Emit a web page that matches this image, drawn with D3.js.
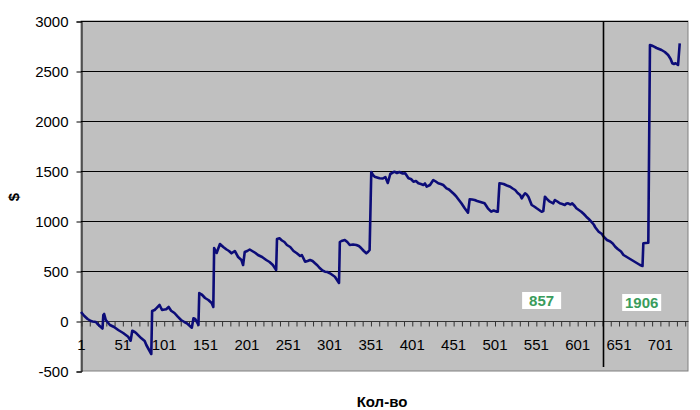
<!DOCTYPE html>
<html>
<head>
<meta charset="utf-8">
<script src="https://cdn.jsdelivr.net/npm/d3@7"></script>
<style>
  html, body { margin: 0; padding: 0; background: #ffffff; }
  svg { display: block; }
  text { font-family: Arial, "Liberation Sans", sans-serif; }
</style>
</head>
<body>
<svg id="chart" width="700" height="410"></svg>
<script>
// ---------------- DATA ----------------
const categoryCount = 735;
const xTickLabels = [1, 51, 101, 151, 201, 251, 301, 351, 401, 451, 501, 551, 601, 651, 701];
const yTickValues = [-500, 0, 500, 1000, 1500, 2000, 2500, 3000];

const tradeIndex = [
  1, 5, 9, 13, 15, 19, 21, 25, 27, 28, 29, 31, 36, 41, 46, 52, 58, 61, 63, 66, 68, 74, 78, 80, 84, 86,
  87, 90, 92, 96, 99, 102, 104, 107, 110, 114, 118, 122, 126, 129, 132, 135, 137, 139, 141, 143,
  144, 147, 151, 155, 159, 161, 162, 165, 169, 173, 177, 180, 183, 187, 191, 195, 197, 199, 202, 205,
  209, 212, 215, 220, 225, 229, 233, 237, 238, 241, 244, 247, 250, 254, 258, 262, 266, 268, 272, 275,
  278, 281, 284, 287, 290, 293, 296, 299, 302, 305, 308, 312, 313, 314, 316, 320, 323, 326, 330, 334,
  337, 340, 343, 346, 348, 350, 352, 354, 356, 359, 362, 366, 369, 372, 375, 380, 383, 386, 390, 393,
  397, 400, 403, 406, 409, 412, 415, 417, 419, 423, 427, 430, 433, 436, 439, 443, 446, 449, 452, 455,
  458, 461, 465, 469, 471, 474, 477, 480, 483, 486, 489, 493, 497, 500, 504, 505, 507, 509, 512, 516,
  520, 523, 526, 529, 532, 534, 536, 538, 540, 542, 546, 549, 552, 555, 558, 560, 562, 565, 568, 572,
  574, 577, 580, 583, 586, 588, 590, 593, 595, 598, 600, 603, 606, 609, 612, 615, 618, 621, 623, 627,
  631, 633, 637, 641, 644, 647, 650, 654, 657, 661, 664, 667, 670, 674, 677, 680, 681, 684, 687, 689,
  691, 694, 697, 700, 703, 707, 711, 714, 716, 718, 720, 723, 725
];
const balance = [
  90, 50, 20, 0, -5, -10, -30, -60, -75, 60, 70, 10, -40, -60, -90, -120, -157, -197, -97, -110, -123, -173, -200, -240, -300, -330,
  100, 110, 127, 160, 110, 115, 117, 140, 103, 80, 43, 10, -10, -23, -45, -67, 27, 20, -7, -40,
  280, 265, 230, 210, 180, 140, 730, 680, 770, 740, 715, 700, 677, 700, 640, 610, 560, 690, 700, 715,
  695, 680, 660, 640, 610, 590, 560, 510, 820, 827, 805, 790, 760, 740, 700, 677, 650, 660, 593, 600,
  610, 600, 577, 555, 527, 505, 493, 490, 477, 460, 443, 393, 380, 790, 800, 810, 790, 760, 765, 760,
  750, 727, 700, 677, 690, 710, 1490, 1460, 1443, 1435, 1427, 1425, 1440, 1380, 1470, 1493, 1480, 1490, 1475, 1477,
  1427, 1420, 1393, 1400, 1377, 1370, 1360, 1375, 1343, 1360, 1410, 1395, 1377, 1370, 1360, 1327, 1315, 1293, 1270, 1243,
  1210, 1177, 1127, 1083, 1217, 1215, 1210, 1200, 1193, 1185, 1177, 1127, 1093, 1105, 1093, 1093, 1377, 1375, 1370, 1355,
  1343, 1325, 1310, 1280, 1260, 1227, 1255, 1277, 1265, 1243, 1160, 1145, 1127, 1110, 1093, 1100, 1243, 1215, 1193, 1177,
  1210, 1195, 1177, 1170, 1160, 1175, 1177, 1165, 1177, 1150, 1127, 1110, 1093, 1070, 1043, 1020, 993, 965, 935, 893,
  870, 843, 810, 795, 775, 743, 720, 695, 660, 640, 625, 610, 595, 575, 560, 550, 777, 780, 783, 2760,
  2755, 2743, 2730, 2720, 2710, 2690, 2660, 2620, 2577, 2570, 2577, 2560, 2777
];

const markerCategory = 632;
const annotationLabels = ["857", "1906"];
const yAxisTitle = "$";
const xAxisTitle = "Кол-во";

// ---------------- CHART ----------------
const svg = d3.select("#chart");
const plot = { left: 81, right: 688, top: 21, bottom: 371 };

const x = d3.scaleLinear().domain([1, categoryCount]).range([plot.left, plot.right]);
const y = d3.scaleLinear().domain([-500, 3000]).range([plot.bottom, plot.top]);

// plot background
svg.append("rect")
  .attr("x", plot.left).attr("y", plot.top)
  .attr("width", plot.right - plot.left).attr("height", plot.bottom - plot.top)
  .attr("fill", "#c0c0c0").attr("stroke", "#808080").attr("stroke-width", 1);

// gridlines
svg.append("g").selectAll("line")
  .data(yTickValues.filter(v => v > 0))
  .join("line")
  .attr("x1", plot.left).attr("x2", plot.right)
  .attr("y1", d => Math.round(y(d)) + 0.5).attr("y2", d => Math.round(y(d)) + 0.5)
  .attr("stroke", "#000").attr("stroke-width", 1);

// y axis
const yAxis = svg.append("g")
  .attr("transform", `translate(${plot.left + 0.5},0.5)`)
  .call(d3.axisLeft(y).tickValues(yTickValues).tickSize(5).tickPadding(8).tickFormat(d => d));
yAxis.select(".domain").attr("stroke", "#000");
yAxis.selectAll(".tick line").attr("stroke", "#000");
yAxis.selectAll("text").attr("font-size", 15).attr("fill", "#000")
  .attr("font-family", "Arial, 'Liberation Sans', sans-serif");

// x axis at zero: minor ticks every 10 categories
const minorTicks = d3.range(1, categoryCount + 1, 10);
const xAxisMinor = svg.append("g")
  .attr("transform", `translate(0.5,${Math.round(y(0)) + 0.5})`)
  .call(d3.axisBottom(x).tickValues(minorTicks).tickSize(5).tickFormat(""));
xAxisMinor.select(".domain").attr("stroke", "#333").attr("d", `M${plot.left},0H${plot.right}`);
xAxisMinor.selectAll(".tick line").attr("stroke", "#333");

const xAxisLabels = svg.append("g")
  .attr("transform", `translate(0,${Math.round(y(0))})`)
  .call(d3.axisBottom(x).tickValues(xTickLabels).tickSize(0).tickPadding(18).tickFormat(d => d));
xAxisLabels.select(".domain").remove();
xAxisLabels.selectAll("text").attr("font-size", 15).attr("fill", "#000")
  .attr("font-family", "Arial, 'Liberation Sans', sans-serif");

// series line
const line = d3.line()
  .x((d, i) => x(tradeIndex[i]))
  .y(d => y(d));
svg.append("path")
  .datum(balance)
  .attr("d", line)
  .attr("fill", "none")
  .attr("stroke", "#0c0c78")
  .attr("stroke-width", 2.6)
  .attr("stroke-linejoin", "round");

// vertical marker
svg.append("line")
  .attr("x1", Math.round(x(markerCategory)) + 0.5).attr("x2", Math.round(x(markerCategory)) + 0.5)
  .attr("y1", plot.top).attr("y2", 367)
  .attr("stroke", "#000").attr("stroke-width", 1.6);

// annotation boxes
const annPos = [{ c: 558, v: 205 }, { c: 679, v: 185 }];
annotationLabels.forEach((label, i) => {
  const cx = x(annPos[i].c), cy = y(annPos[i].v);
  const w = 39, h = 17;
  svg.append("rect")
    .attr("x", cx - w / 2).attr("y", cy - h / 2)
    .attr("width", w).attr("height", h)
    .attr("fill", "#ffffff");
  svg.append("text")
    .attr("x", cx).attr("y", cy + 5.5)
    .attr("text-anchor", "middle")
    .attr("font-size", 15).attr("font-weight", "bold")
    .attr("fill", "#3a9c5c")
    .text(label);
});

// axis titles
svg.append("text")
  .attr("transform", `translate(19,197) rotate(-90)`)
  .attr("text-anchor", "middle")
  .attr("font-size", 15).attr("font-weight", "bold").attr("fill", "#000")
  .text(yAxisTitle);
svg.append("text")
  .attr("x", 382).attr("y", 407)
  .attr("text-anchor", "middle")
  .attr("font-size", 15).attr("font-weight", "bold").attr("fill", "#000")
  .text(xAxisTitle);
</script>
</body>
</html>
